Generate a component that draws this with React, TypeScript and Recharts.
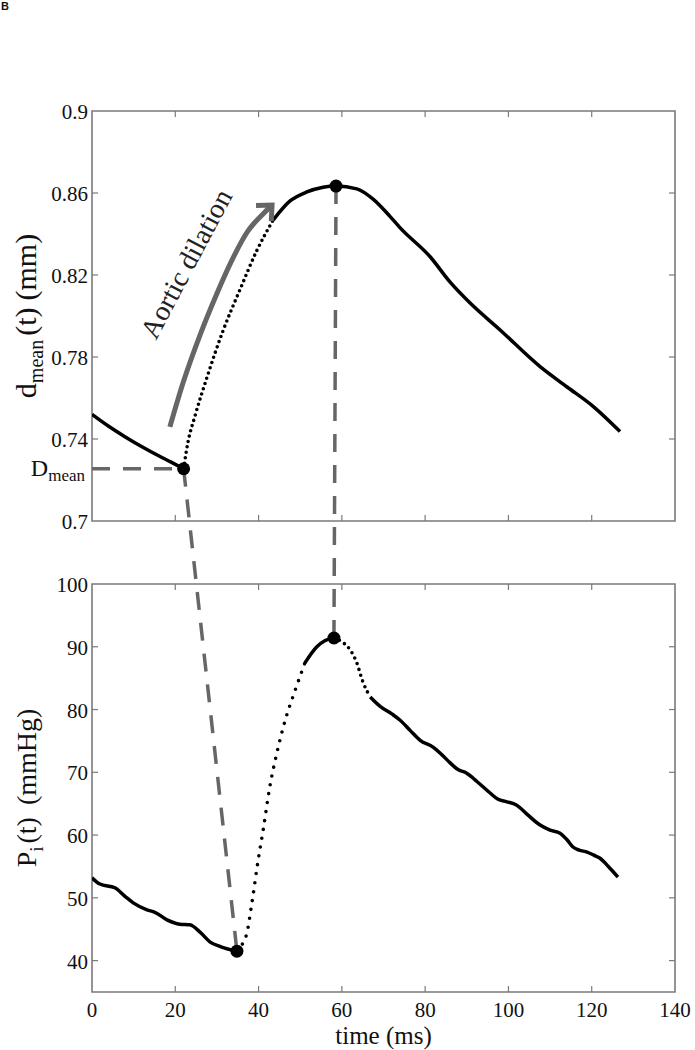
import React from 'react';
import {
  ComposedChart,
  Line,
  XAxis,
  YAxis,
  ReferenceArea,
  ReferenceLine,
  ReferenceDot,
} from 'recharts';

// ---------- data ----------
const timeTicks = [0, 20, 40, 60, 80, 100, 120, 140];
const dTicks = [0.7, 0.74, 0.78, 0.82, 0.86, 0.9];
const pTicks = [40, 50, 60, 70, 80, 90, 100];

// d_mean(t) in mm : [time ms, value]
const dBefore: [number, number][] = [
  [0, 0.752], [4, 0.7462], [8, 0.741], [12, 0.7362], [16, 0.7318], [19, 0.7287], [22, 0.7255],
];
const dRise: [number, number][] = [
  [22, 0.7255], [23, 0.738], [24.7, 0.751], [27.6, 0.77], [31.5, 0.793], [35.5, 0.8127], [39.6, 0.832], [43.5, 0.8468],
];
const dAfter: [number, number][] = [
  [43.5, 0.8468], [47.5, 0.856], [51.6, 0.8605], [55.5, 0.8628], [58.6, 0.8634], [63.6, 0.862], [67.5, 0.857],
  [71.6, 0.8485], [74, 0.843], [81.2, 0.8289], [86, 0.8165], [90.8, 0.8063], [98, 0.7932],
  [107.6, 0.7753], [114, 0.7655], [120.4, 0.7558], [126.8, 0.7436],
];

// P_i(t) in mmHg : [time ms, value]
const pBefore: [number, number][] = [
  [0, 53.2], [1.9, 52.2], [5.5, 51.6], [8, 50.2], [9.9, 49.2], [13.2, 48.1], [15.1, 47.7], [18, 46.5],
  [21.1, 45.8], [23.5, 45.7], [26, 44.5], [28.3, 43.0], [31, 42.2], [34.8, 41.5],
];
const pRise: [number, number][] = [
  [34.8, 41.5], [36, 42.5], [37.2, 44.4], [38.4, 49.2], [39.9, 56.0], [41.1, 60.8], [42.7, 67.7],
  [44.4, 73.1], [46.4, 78.3], [48.8, 83.1], [51.1, 87.4],
];
const pTop: [number, number][] = [[51.1, 87.4], [54, 90.0], [56, 91.0], [58.1, 91.4]];
const pFall: [number, number][] = [[58.1, 91.4], [60, 90.8], [62, 89.5], [63.5, 87.6], [65, 84.5], [66.8, 82.0]];
const pAfter: [number, number][] = [
  [66.8, 82.0], [69.2, 80.5], [72, 79.3], [74, 78.3], [76.5, 76.6], [78.8, 75.1], [81.9, 74.0], [84, 72.8],
  [86, 71.5], [88, 70.4], [89.9, 69.9], [92.5, 68.5], [95.6, 66.7], [97.5, 65.7], [99.6, 65.3], [101.9, 64.8],
  [104.5, 63.3], [107.6, 61.6], [110, 60.8], [112.4, 60.3], [114, 59.3], [115.5, 58.1], [117, 57.6],
  [118.9, 57.3], [120.5, 56.8], [122, 56.3], [124, 55.0], [126.3, 53.3],
];

// marked points
const dMeanMark: [number, number] = [22, 0.7255];
const dPeakMark: [number, number] = [58.6, 0.8634];
const pMinMark: [number, number] = [34.8, 41.5];
const pPeakMark: [number, number] = [58.1, 91.4];

// "Aortic dilation" arrow path (time, d_mean units)
const arrowPath: [number, number][] = [
  [18.7, 0.7459], [21.85, 0.7673], [25.94, 0.7907], [29.54, 0.8088], [33.38, 0.8263],
  [37.46, 0.8415], [41.07, 0.8498], [43.23, 0.8541],
];
const arrowText = { t: 22.6, v: 0.8255, text: 'Aortic dilation', angle: -62 };

// ---------- layout ----------
const WIDTH = 695;
const HEIGHT = 1050;
const MARGIN = { top: 111, right: 20, bottom: 28, left: 92 };
const X_AXIS_H = 30;
const PLOT_W = WIDTH - MARGIN.left - MARGIN.right;
const PLOT_H = HEIGHT - MARGIN.top - MARGIN.bottom - X_AXIS_H;
const TOP_BOX_PX = 410;
const BOTTOM_BOX_PX = 408;

const tRange = [0, 140];
const dRange = [0.7, 0.9];
const pRange = [35, 100];
const dDomain = [dRange[1] - ((dRange[1] - dRange[0]) * PLOT_H) / TOP_BOX_PX, dRange[1]];
const pDomain = [pRange[0], pRange[0] + ((pRange[1] - pRange[0]) * PLOT_H) / BOTTOM_BOX_PX];
const pToD = (p: number) =>
  dDomain[0] + ((p - pDomain[0]) / (pDomain[1] - pDomain[0])) * (dDomain[1] - dDomain[0]);

const TICK_PX = 6;
const tTickLen = (TICK_PX * (tRange[1] - tRange[0])) / PLOT_W;
const dTickLen = (TICK_PX * (dDomain[1] - dDomain[0])) / PLOT_H;
const pTickLen = (TICK_PX * (pDomain[1] - pDomain[0])) / PLOT_H;

const SERIF = '"Liberation Serif", "Times New Roman", serif';
const FRAME = '#7a7a7a';
const DASH_COLOR = '#666';
const ARROW_COLOR = '#666';
const TEXT = '#111';

const toRows = (arr: [number, number][]) => arr.map(([t, v]) => ({ t, v }));

// ---------- render helpers ----------
const YTick = (props: any) => {
  const { y, payload } = props;
  return (
    <text x={MARGIN.left - 4} y={y} dy={1} textAnchor="end" dominantBaseline="central" fontFamily={SERIF} fontSize={21} fill={TEXT}>
      {String(payload.value)}
    </text>
  );
};

const XTick = (props: any) => {
  const { x, y, payload } = props;
  return (
    <text x={x} y={y + 18} textAnchor="middle" dominantBaseline="central" fontFamily={SERIF} fontSize={21} fill={TEXT}>
      {String(payload.value)}
    </text>
  );
};

const ArrowDot = (props: any) => {
  const { cx, cy, index, points } = props;
  if (!points || index !== points.length - 1) return <g key={`ad-${index}`} />;
  const prev = points[index - 1];
  const ang = Math.atan2(cy - prev.y, cx - prev.x);
  const L = 16;
  const spread = 0.75;
  const a1 = ang + Math.PI - spread;
  const a2 = ang + Math.PI + spread;
  return (
    <path
      key={`ad-${index}`}
      d={`M${cx + L * Math.cos(a1)},${cy + L * Math.sin(a1)} L${cx},${cy} L${cx + L * Math.cos(a2)},${cy + L * Math.sin(a2)}`}
      stroke={ARROW_COLOR}
      strokeWidth={5}
      fill="none"
    />
  );
};

const DTitle = (props: any) => {
  const vb = props.viewBox;
  const cx = vb.x - 56;
  const cy = vb.y + vb.height / 2;
  return (
    <text transform={`rotate(-90 ${cx} ${cy})`} x={cx} y={cy} textAnchor="middle" fontFamily={SERIF} fontSize={30} fill={TEXT}>
      d<tspan dy={7} fontSize={20}>mean</tspan>
      <tspan dy={-7} dx={4}>(t)</tspan>
      <tspan dx={7}>(mm)</tspan>
    </text>
  );
};

const PTitle = (props: any) => {
  const vb = props.viewBox;
  const cx = vb.x - 56;
  const cy = vb.y + vb.height / 2;
  return (
    <g>
      <text transform={`rotate(-90 ${cx} ${cy})`} x={cx} y={cy} textAnchor="middle" fontFamily={SERIF} fontSize={28} fill={TEXT}>
        P<tspan dy={7} fontSize={19}>i</tspan>
        <tspan dy={-7} dx={3}>(t)</tspan>
        <tspan dx={12}>(mmHg)</tspan>
      </text>
      <text x={vb.x + vb.width / 2} y={vb.y + vb.height + 52} textAnchor="middle" fontFamily={SERIF} fontSize={25} fill={TEXT}>
        time (ms)
      </text>
    </g>
  );
};

const DMeanLabel = (props: any) => {
  const vb = props.viewBox;
  const x = vb.x + vb.width / 2 - 7;
  const y = vb.y + vb.height / 2 + 7;
  return (
    <text x={x} y={y} textAnchor="end" fontFamily={SERIF} fontSize={24} fill={TEXT}>
      D<tspan dy={5} fontSize={17}>mean</tspan>
    </text>
  );
};

const AorticLabel = (props: any) => {
  const vb = props.viewBox;
  const cx = vb.x + vb.width / 2;
  const cy = vb.y + vb.height / 2;
  return (
    <text
      transform={`rotate(${arrowText.angle} ${cx} ${cy})`}
      x={cx}
      y={cy}
      textAnchor="middle"
      dominantBaseline="central"
      fontFamily={SERIF}
      fontSize={28}
      fill="#222"
    >
      {arrowText.text}
    </text>
  );
};

// ---------- tick marks (inside the boxes, on all sides) ----------
type Seg = { id: string; axis: 'd' | 'p'; seg: [{ x: number; y: number }, { x: number; y: number }] };
const innerT = timeTicks.slice(1, -1);
const tickSegs: Seg[] = [];
innerT.forEach((t) => {
  tickSegs.push({ id: `dt${t}`, axis: 'd', seg: [{ x: t, y: dRange[1] }, { x: t, y: dRange[1] - dTickLen }] });
  tickSegs.push({ id: `db${t}`, axis: 'd', seg: [{ x: t, y: dRange[0] }, { x: t, y: dRange[0] + dTickLen }] });
  tickSegs.push({ id: `pt${t}`, axis: 'p', seg: [{ x: t, y: pRange[1] }, { x: t, y: pRange[1] - pTickLen }] });
  tickSegs.push({ id: `pb${t}`, axis: 'p', seg: [{ x: t, y: pRange[0] }, { x: t, y: pRange[0] + pTickLen }] });
});
dTicks.slice(1, -1).forEach((v) => {
  tickSegs.push({ id: `dl${v}`, axis: 'd', seg: [{ x: tRange[0], y: v }, { x: tRange[0] + tTickLen, y: v }] });
  tickSegs.push({ id: `dr${v}`, axis: 'd', seg: [{ x: tRange[1], y: v }, { x: tRange[1] - tTickLen, y: v }] });
});
pTicks.slice(0, -1).forEach((v) => {
  tickSegs.push({ id: `pl${v}`, axis: 'p', seg: [{ x: tRange[0], y: v }, { x: tRange[0] + tTickLen, y: v }] });
  tickSegs.push({ id: `pr${v}`, axis: 'p', seg: [{ x: tRange[1], y: v }, { x: tRange[1] - tTickLen, y: v }] });
});

const solid = { stroke: '#000', strokeWidth: 3.5, fill: 'none' };
const dotted = { stroke: '#000', strokeWidth: 3.6, strokeDasharray: '0 5.5', strokeLinecap: 'round' as const };
const dashed = { stroke: DASH_COLOR, strokeWidth: 3.5, strokeDasharray: '18 13' };

export default function App() {
  return (
    <div style={{ position: 'absolute', left: 0, top: 0, width: WIDTH, height: HEIGHT, background: '#fff' }}>
      <div
        style={{
          position: 'absolute',
          left: 1,
          top: 0,
          fontFamily: '"Liberation Sans", Arial, sans-serif',
          fontWeight: 'bold',
          fontSize: 11,
          lineHeight: '12px',
          color: '#111',
        }}
      >
        B
      </div>
      <ComposedChart width={WIDTH} height={HEIGHT} margin={MARGIN}>
        <XAxis
          xAxisId={0}
          type="number"
          dataKey="t"
          domain={tRange}
          ticks={timeTicks}
          interval={0}
          allowDataOverflow
          axisLine={false}
          tickLine={false}
          tickSize={0}
          tickMargin={0}
          height={X_AXIS_H}
          tick={<XTick />}
        />
        <YAxis
          yAxisId="d"
          type="number"
          domain={dDomain}
          ticks={dTicks}
          interval={0}
          allowDataOverflow
          orientation="left"
          mirror
          axisLine={false}
          tickLine={false}
          tickSize={0}
          tickMargin={0}
          tick={<YTick />}
        />
        <YAxis
          yAxisId="p"
          type="number"
          domain={pDomain}
          ticks={pTicks}
          interval={0}
          allowDataOverflow
          orientation="left"
          mirror
          axisLine={false}
          tickLine={false}
          tickSize={0}
          tickMargin={0}
          tick={<YTick />}
        />

        <ReferenceArea
          yAxisId="d"
          x1={tRange[0]}
          x2={tRange[1]}
          y1={dRange[0]}
          y2={dRange[1]}
          fill="none"
          stroke={FRAME}
          strokeWidth={1.6}
          label={(p: any) => <DTitle {...p} />}
        />
        <ReferenceArea
          yAxisId="p"
          x1={tRange[0]}
          x2={tRange[1]}
          y1={pRange[0]}
          y2={pRange[1]}
          fill="none"
          stroke={FRAME}
          strokeWidth={1.6}
          label={(p: any) => <PTitle {...p} />}
        />
        {tickSegs.map((s) => (
          <ReferenceLine key={s.id} yAxisId={s.axis} segment={s.seg} stroke={FRAME} strokeWidth={1.2} />
        ))}

        {/* dashed connectors */}
        <Line
          yAxisId="d"
          data={toRows([[tRange[0], dMeanMark[1]], dMeanMark])}
          dataKey="v"
          type="linear"
          {...dashed}
          dot={false}
          activeDot={false}
          isAnimationActive={false}
        />
        <Line
          yAxisId="d"
          data={[{ t: dMeanMark[0], v: dMeanMark[1] }, { t: pMinMark[0], v: pToD(pMinMark[1]) }]}
          dataKey="v"
          type="linear"
          {...dashed}
          dot={false}
          activeDot={false}
          isAnimationActive={false}
        />
        <Line
          yAxisId="d"
          data={[{ t: dPeakMark[0], v: dPeakMark[1] }, { t: pPeakMark[0], v: pToD(pPeakMark[1]) }]}
          dataKey="v"
          type="linear"
          {...dashed}
          dot={false}
          activeDot={false}
          isAnimationActive={false}
        />

        {/* arrow */}
        <Line
          yAxisId="d"
          data={toRows(arrowPath)}
          dataKey="v"
          type="monotone"
          stroke={ARROW_COLOR}
          strokeWidth={5}
          dot={<ArrowDot />}
          activeDot={false}
          isAnimationActive={false}
        />

        {/* d_mean curve */}
        <Line yAxisId="d" data={toRows(dBefore)} dataKey="v" type="monotone" {...solid} dot={false} activeDot={false} isAnimationActive={false} />
        <Line yAxisId="d" data={toRows(dRise)} dataKey="v" type="monotone" {...dotted} dot={false} activeDot={false} isAnimationActive={false} />
        <Line yAxisId="d" data={toRows(dAfter)} dataKey="v" type="monotone" {...solid} dot={false} activeDot={false} isAnimationActive={false} />

        {/* P_i curve */}
        <Line yAxisId="p" data={toRows(pBefore)} dataKey="v" type="monotone" {...solid} dot={false} activeDot={false} isAnimationActive={false} />
        <Line yAxisId="p" data={toRows(pRise)} dataKey="v" type="monotone" {...dotted} strokeDasharray="0 9" dot={false} activeDot={false} isAnimationActive={false} />
        <Line yAxisId="p" data={toRows(pTop)} dataKey="v" type="monotone" {...solid} dot={false} activeDot={false} isAnimationActive={false} />
        <Line yAxisId="p" data={toRows(pFall)} dataKey="v" type="monotone" {...dotted} strokeDasharray="0 6" dot={false} activeDot={false} isAnimationActive={false} />
        <Line yAxisId="p" data={toRows(pAfter)} dataKey="v" type="monotone" {...solid} dot={false} activeDot={false} isAnimationActive={false} />

        {/* marked points */}
        <ReferenceDot yAxisId="d" x={dMeanMark[0]} y={dMeanMark[1]} r={6.5} fill="#000" stroke="none" />
        <ReferenceDot yAxisId="d" x={dPeakMark[0]} y={dPeakMark[1]} r={6.5} fill="#000" stroke="none" />
        <ReferenceDot yAxisId="p" x={pMinMark[0]} y={pMinMark[1]} r={6.5} fill="#000" stroke="none" />
        <ReferenceDot yAxisId="p" x={pPeakMark[0]} y={pPeakMark[1]} r={6.5} fill="#000" stroke="none" />

        {/* text annotations */}
        <ReferenceDot
          yAxisId="d"
          x={tRange[0]}
          y={dMeanMark[1]}
          r={0.01}
          fill="none"
          stroke="none"
          label={(p: any) => <DMeanLabel {...p} />}
        />
        <ReferenceDot
          yAxisId="d"
          x={arrowText.t}
          y={arrowText.v}
          r={0.01}
          fill="none"
          stroke="none"
          label={(p: any) => <AorticLabel {...p} />}
        />
      </ComposedChart>
    </div>
  );
}
